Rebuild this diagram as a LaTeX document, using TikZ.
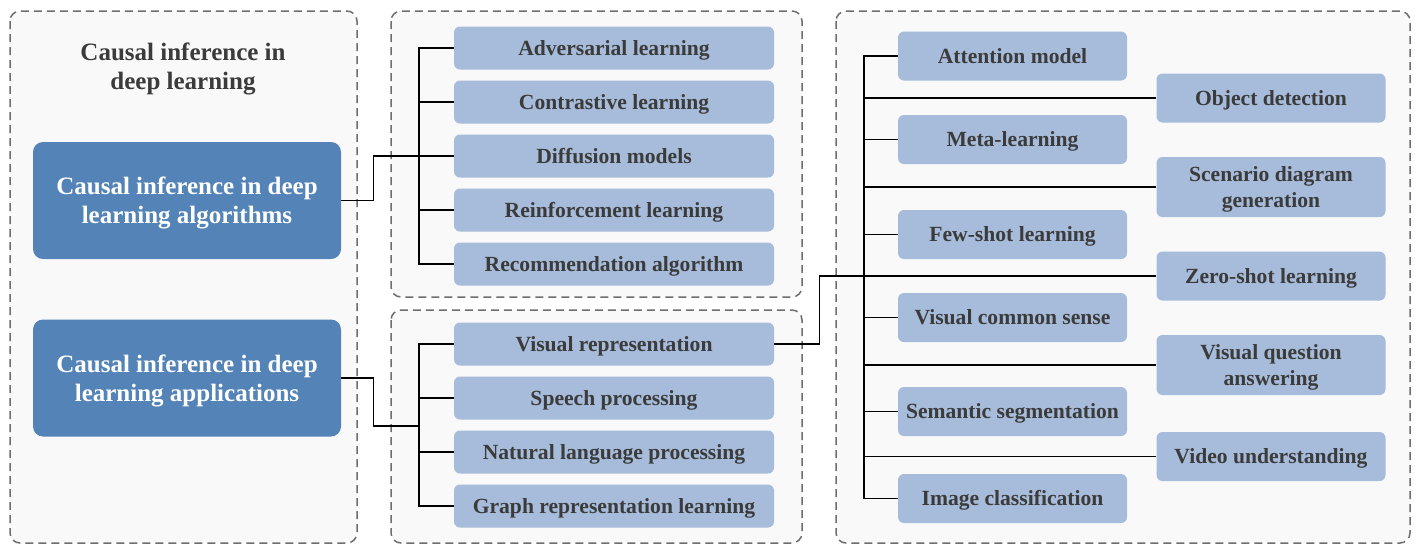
\documentclass[tikz,border=0pt]{standalone}
\usepackage{fontspec}
\setmainfont{Liberation Serif}
\definecolor{panelgray}{HTML}{F9F9F9}
\definecolor{dashgray}{HTML}{6E6E6E}
\definecolor{lightblue}{HTML}{A6BCDA}
\definecolor{darkblue}{HTML}{5383B7}
\definecolor{textgray}{HTML}{3B3B3B}
\begin{document}
\begin{tikzpicture}[x=0.5pt,y=-0.5pt,
  panel/.style={draw=dashgray,fill=panelgray,line width=0.75pt,dash pattern=on 4pt off 2.5pt,rounded corners=5pt},
  topic/.style={fill=darkblue,text=white,rounded corners=5pt,minimum width=154pt,minimum height=58.5pt,align=center,text depth=0.3pt,font=\bfseries\fontsize{12.5}{14.5}\selectfont},
  item/.style={fill=lightblue,text=textgray,rounded corners=3pt,minimum width=160pt,minimum height=21.5pt,align=center,inner sep=0pt,text depth=0.3pt,font=\bfseries\fontsize{10.8}{13}\selectfont},
  task/.style={item,minimum width=114.5pt,minimum height=24.5pt},
  link/.style={line width=0.8pt}]

\useasboundingbox (0,0) rectangle (1421,554);

\draw[panel] (10,11) rectangle (357,543);
\draw[panel] (391,11) rectangle (802,297);
\draw[panel] (391,310) rectangle (802,543);
\draw[panel] (836,11) rectangle (1410,543);

\node[text=textgray,align=center,text depth=0.3pt,font=\bfseries\fontsize{12.5}{14.5}\selectfont] (title) at (183,66) {Causal inference in\\deep learning};

\node[topic] (alg) at (187,200.5) {Causal inference in deep\\learning algorithms};
\node[topic] (app) at (187,378) {Causal inference in deep\\learning applications};

\node[item] (adv) at (614,48) {Adversarial learning};
\node[item] (con) at (614,102) {Contrastive learning};
\node[item] (dif) at (614,156) {Diffusion models};
\node[item] (rei) at (614,210) {Reinforcement learning};
\node[item] (rec) at (614,264) {Recommendation algorithm};

\node[item] (vis) at (614,344) {Visual representation};
\node[item] (spe) at (614,398) {Speech processing};
\node[item] (nat) at (614,452) {Natural language processing};
\node[item] (gra) at (614,506) {Graph representation learning};

\node[task] (att) at (1012.5,56) {Attention model};
\node[task] (met) at (1012.5,139.5) {Meta-learning};
\node[task] (few) at (1012.5,234.5) {Few-shot learning};
\node[task] (vcs) at (1012.5,317.5) {Visual common sense};
\node[task] (sem) at (1012.5,411.5) {Semantic segmentation};
\node[task] (img) at (1012.5,498.5) {Image classification};

\node[task] (obj) at (1271,98) {Object detection};
\node[task,minimum height=30pt] (sce) at (1271,187) {Scenario diagram\\generation};
\node[task] (zer) at (1271,276) {Zero-shot learning};
\node[task,minimum height=30pt] (vqa) at (1271,365) {Visual question\\answering};
\node[task] (vid) at (1271,456.5) {Video understanding};

\coordinate (algtrunk) at (419,48);
\coordinate (apptrunk) at (419,426);
\coordinate (tasktrunk) at (864,56);

\draw[link] (adv.west) -| (algtrunk) |- (rec.west);
\foreach \n in {con,dif,rei}
  \draw[link] (\n.west) -- (\n.west -| algtrunk);
\draw[link] (alg.east) -- ++(32,0) |- (dif.west);

\draw[link] (vis.west) -| (apptrunk) |- (gra.west);
\foreach \n in {spe,nat}
  \draw[link] (\n.west) -- (\n.west -| apptrunk);
\draw[link] (app.east) -- ++(32,0) |- (apptrunk);

\draw[link] (att.west) -| (tasktrunk) |- (img.west);
\foreach \n in {met,few,vcs,sem,obj,sce,zer,vqa,vid}
  \draw[link] (\n.west) -- (\n.west -| tasktrunk);
\draw[link] (vis.east) -- ++(45,0) |- (zer.west);

\end{tikzpicture}
\end{document}
